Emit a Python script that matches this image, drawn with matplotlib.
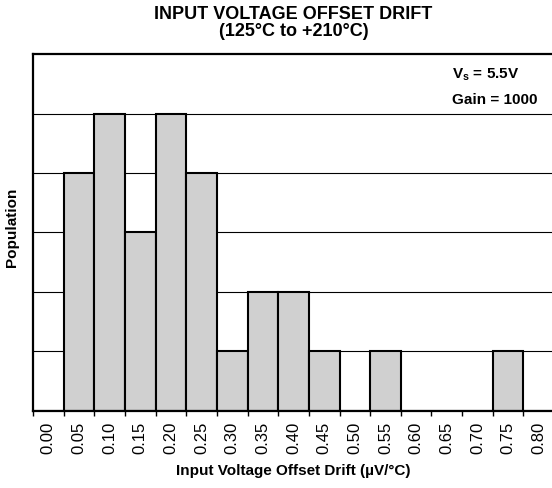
import matplotlib
matplotlib.use("Agg")
import matplotlib.pyplot as plt
import numpy as np

plt.rcParams['font.family'] = ['Liberation Sans', 'DejaVu Sans']
plt.rcParams['mathtext.fontset'] = 'custom'
plt.rcParams['mathtext.rm'] = 'Liberation Sans:bold'
plt.rcParams['mathtext.bf'] = 'Liberation Sans:bold'
plt.rcParams['mathtext.it'] = 'Liberation Sans:bold'

# drift bins (uV/C) and counts
bins = ["0.00", "0.05", "0.10", "0.15", "0.20", "0.25", "0.30", "0.35", "0.40",
        "0.45", "0.50", "0.55", "0.60", "0.65", "0.70", "0.75", "0.80"]
counts = [0, 4, 5, 3, 5, 4, 1, 2, 2, 1, 0, 1, 0, 0, 0, 1, 0]

fig = plt.figure(figsize=(5.52, 4.89), dpi=100)
ax = fig.add_axes([0.0598, 0.1575, 0.944, 0.730])

x = np.arange(len(bins))
ax.bar(x, counts, width=1.0, color="#d0d0d0", edgecolor="black", linewidth=1.5, zorder=2)

ax.set_xlim(-0.5, len(bins) - 0.5)
ax.set_ylim(0, 6)

# tick marks on the bin edges, labels in the bin centres
ax.set_xticks(np.arange(len(bins) + 1) - 0.5)
ax.set_xticklabels([])
ax.set_xticks(x, minor=True)
ax.set_xticklabels(bins, minor=True, rotation=90, fontsize=12)
ax.tick_params(axis="x", which="major", direction="out", length=3.5, width=1.0, color="black")
ax.tick_params(axis="x", which="minor", length=0, pad=7)

ax.set_yticks([1, 2, 3, 4, 5])
ax.set_yticklabels([])
ax.tick_params(axis="y", length=0)
ax.yaxis.grid(True, color="black", linewidth=0.8, zorder=0)
ax.set_axisbelow(True)

for s in ax.spines.values():
    s.set_linewidth(1.6)

ax.set_title("INPUT VOLTAGE OFFSET DRIFT\n(125°C to +210°C)", fontsize=13,
             fontweight="bold", linespacing=1.0, pad=14)
ax.set_xlabel("Input Voltage Offset Drift (µV/°C)", fontsize=11, fontweight="bold", labelpad=7)
ax.set_ylabel("Population", fontsize=11, fontweight="bold")
ax.yaxis.set_label_coords(-0.026, 0.518)

ax.text(0.804, 0.944, r"V$_\mathbf{s}$ = 5.5V", transform=ax.transAxes,
        fontsize=11, fontweight="bold", va="center", ha="left")
ax.text(0.804, 0.874, "Gain = 1000", transform=ax.transAxes,
        fontsize=11, fontweight="bold", va="center", ha="left")

fig.savefig("out.png", dpi=100)
